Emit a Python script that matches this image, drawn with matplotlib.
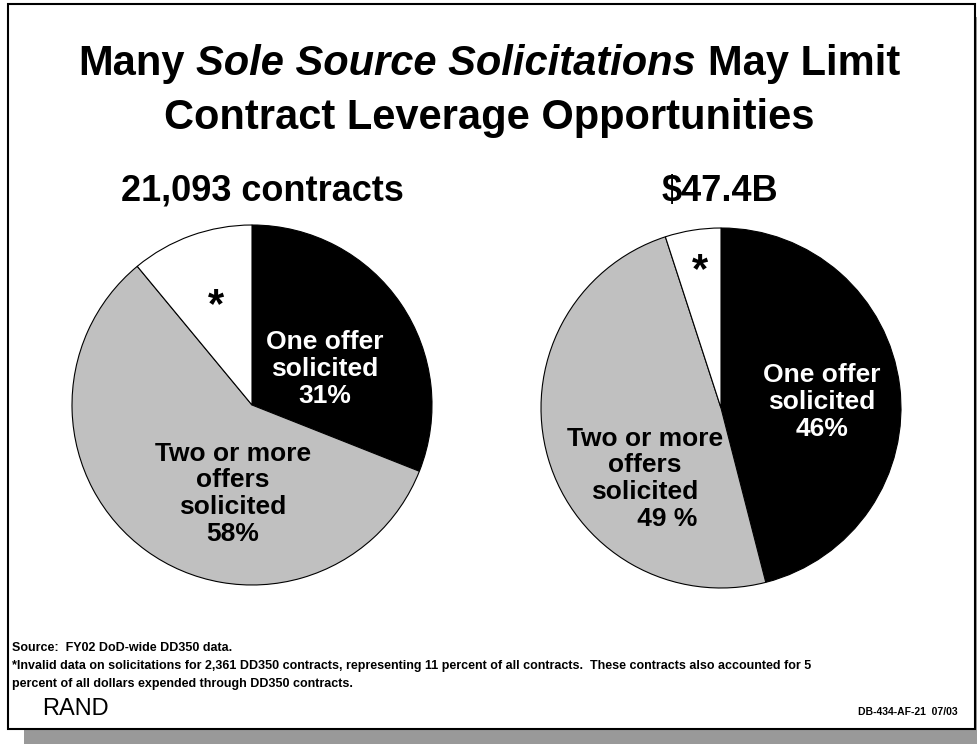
import matplotlib
matplotlib.use("Agg")
import matplotlib.pyplot as plt
from matplotlib.patches import Rectangle

# data
slice_names = ["One offer solicited", "Two or more offers solicited", "Invalid data *"]
contracts_pct = [31, 58, 11]
dollars_pct = [46, 49, 5]
slice_colors = ["black", "#c0c0c0", "white"]
pie_titles = ["21,093 contracts", "$47.4B"]

title_parts = [("Many", "normal"), ("Sole Source Solicitations", "italic"), ("May Limit", "normal")]
title_line2 = "Contract Leverage Opportunities"
notes = ["Source:  FY02 DoD-wide DD350 data.",
         "*Invalid data on solicitations for 2,361 DD350 contracts, representing 11 percent of all contracts.  "
         "These contracts also accounted for 5",
         "percent of all dollars expended through DD350 contracts."]

W, H = 978, 744
plt.rcParams['font.family'] = ['Liberation Sans', 'DejaVu Sans']
fig = plt.figure(figsize=(W / 100, H / 100), dpi=100)

# background axes in pixel units
bg = fig.add_axes([0, 0, 1, 1])
bg.set_xlim(0, W)
bg.set_ylim(H, 0)
bg.axis('off')
bg.add_patch(Rectangle((24, 17), W - 24, H - 17, fc='#999999', ec='none'))
bg.add_patch(Rectangle((8, 4), 967, 725, fc='white', ec='black', lw=1.5))

# title, with the italic middle part
fig.canvas.draw()
rend = fig.canvas.get_renderer()
tsize = 30
gap = 0.278 * tsize * 100 / 72
pieces = []
for txt, style in title_parts:
    t = bg.text(0, 64, txt, fontsize=tsize, fontweight='bold', style=style, ha='left', va='center')
    pieces.append(t)
widths = [t.get_window_extent(rend).width for t in pieces]
total = sum(widths) + gap * (len(pieces) - 1)
x = W / 2 - total / 2
for t, w in zip(pieces, widths):
    t.set_x(x)
    x += w + gap
bg.text(W / 2, 118, title_line2, fontsize=tsize, fontweight='bold', ha='center', va='center')

# pie subtitles
bg.text(262, 191, pie_titles[0], fontsize=26, fontweight='bold', ha='center', va='center')
bg.text(720, 191, pie_titles[1], fontsize=26, fontweight='bold', ha='center', va='center')


def pie_axes(cx, cy, r):
    pad = 1.02
    return fig.add_axes([(cx - r * pad) / W, (H - cy - r * pad) / H, 2 * r * pad / W, 2 * r * pad / H])


def draw_pie(ax, vals):
    ax.pie(vals, colors=slice_colors, startangle=90, counterclock=False,
           wedgeprops=dict(edgecolor='black', linewidth=0.8))
    ax.set_xlim(-1.02, 1.02)
    ax.set_ylim(-1.02, 1.02)
    ax.axis('off')


lab = dict(fontsize=19, fontweight='bold', ha='center', va='center', linespacing=1.15)

# left pie - number of contracts
ax1 = pie_axes(252, 405, 180)
draw_pie(ax1, contracts_pct)
ax1.text(0.406, 0.2, f"One offer\nsolicited\n{contracts_pct[0]}%", color='white', **lab)
ax1.text(-0.106, -0.494, f"Two or more\noffers\nsolicited\n{contracts_pct[1]}%", color='black', **lab)
ax1.text(-0.2, 0.55, "*", fontsize=30, fontweight='bold', ha='center', va='center')

# right pie - dollars
ax2 = pie_axes(721, 408, 180)
draw_pie(ax2, dollars_pct)
ax2.text(0.561, 0.033, f"One offer\nsolicited\n{dollars_pct[0]}%", color='white', **lab)
ax2.text(-0.422, -0.394, f"Two or more\noffers\nsolicited\n      {dollars_pct[1]} %", color='black', **lab)
ax2.text(-0.117, 0.76, "*", fontsize=30, fontweight='bold', ha='center', va='center')

# footnotes
for i, line in enumerate(notes):
    bg.text(12, 648 + i * 18, line, fontsize=9, fontweight='bold', ha='left', va='center')
bg.text(42, 709, "RAND", fontsize=17, ha='left', va='center')
bg.text(958, 712, "DB-434-AF-21  07/03", fontsize=7.5, fontweight='bold', ha='right', va='center')

fig.savefig("out.png", dpi=100)
